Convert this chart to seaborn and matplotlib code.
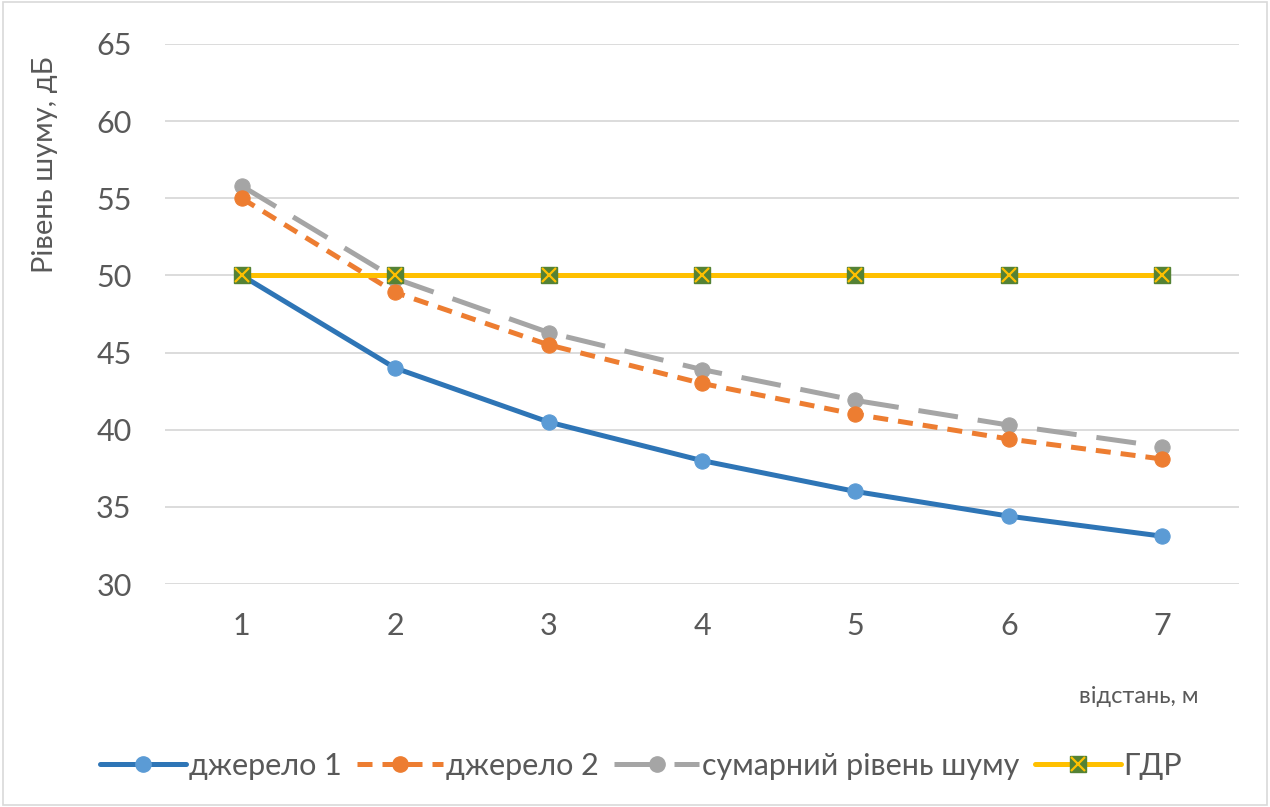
import matplotlib
matplotlib.use("Agg")
import matplotlib.pyplot as plt
import matplotlib.patches as mpatches
from matplotlib.lines import Line2D
import seaborn as sns
import pandas as pd

# дані з графіка
vidstan = [1, 2, 3, 4, 5, 6, 7]
dzherelo1 = [50, 44, 40.5, 38, 36, 34.4, 33.1]
dzherelo2 = [55, 48.9, 45.5, 43, 41, 39.4, 38.1]
sumarnyi = [55.8, 49.8, 46.3, 43.9, 41.9, 40.3, 38.9]
gdr = [50, 50, 50, 50, 50, 50, 50]
nazvy = ['джерело 1', 'джерело 2', 'сумарний рівень шуму', 'ГДР']

sns.set_style("white")
plt.rcParams['font.family'] = ['Lato', 'DejaVu Sans']
tekst = '#595959'
LW = 3.6
MS = 11
shtrykh2 = (0, (3, 2))
shtrykh3 = (0, (8, 4))

df = pd.DataFrame({'x': vidstan, 'd1': dzherelo1, 'd2': dzherelo2, 's': sumarnyi, 'g': gdr})

fig = plt.figure(figsize=(12.7, 8.07), dpi=100)
ax = fig.add_axes([0.1299, 0.2763, 0.8457, 0.6692])

sns.lineplot(data=df, x='x', y='d1', ax=ax, color='#2E75B6', lw=LW, marker='o', ms=MS,
             markerfacecolor='#5B9BD5', markeredgecolor='#5B9BD5', zorder=3)
sns.lineplot(data=df, x='x', y='d2', ax=ax, color='#ED7D31', lw=LW, marker='o', ms=MS,
             markeredgecolor='#ED7D31', linestyle=shtrykh2, zorder=4)
sns.lineplot(data=df, x='x', y='s', ax=ax, color='#A5A5A5', lw=LW, marker='o', ms=MS,
             markeredgecolor='#A5A5A5', linestyle=shtrykh3, zorder=3)
sns.lineplot(data=df, x='x', y='g', ax=ax, color='#FFC000', lw=LW, zorder=5)
# маркери ГДР: зелений квадрат з жовтим хрестиком
ax.plot(df['x'], df['g'], ls='none', marker='s', ms=MS, markerfacecolor='#548235',
        markeredgecolor='#548235', zorder=6)
ax.plot(df['x'], df['g'], ls='none', marker='x', ms=MS - 1, mew=1.6, color='#FFC000', zorder=7)

ax.set_xlim(0.5, 7.5)
ax.set_ylim(30, 65)
ax.set_yticks(range(30, 66, 5))
ax.set_xticks(vidstan)
ax.grid(axis='y', color='#D9D9D9', lw=1.3)
for s in ax.spines.values():
    s.set_visible(False)
ax.tick_params(axis='both', length=0, labelsize=22, labelcolor=tekst)
ax.tick_params(axis='y', pad=24)
ax.tick_params(axis='x', pad=20)

ax.set_ylabel('Рівень шуму, дБ', fontsize=21, color=tekst)
ax.yaxis.set_label_coords(-0.1, 0.776)
ax.set_xlabel('відстань, м', fontsize=17, color=tekst)
ax.xaxis.set_label_coords(0.907, -0.189)

handles = [
    Line2D([], [], color='#2E75B6', lw=LW, marker='o', ms=MS, markerfacecolor='#5B9BD5', markeredgecolor='#5B9BD5'),
    Line2D([], [], color='#ED7D31', lw=LW, marker='o', ms=MS, linestyle=shtrykh2),
    Line2D([], [], color='#A5A5A5', lw=LW, marker='o', ms=MS, linestyle=shtrykh3),
    (Line2D([], [], color='#FFC000', lw=LW, marker='s', ms=MS, markerfacecolor='#548235', markeredgecolor='#548235'),
     Line2D([], [], ls='none', marker='x', ms=MS - 1, mew=1.6, color='#FFC000')),
]
fig.legend(handles, nazvy, loc='center', bbox_to_anchor=(0.505, 0.051), ncol=4, frameon=False,
           fontsize=22, labelcolor=tekst, handlelength=2.8, handletextpad=0.1, columnspacing=0.5)

fig.patches.append(mpatches.Rectangle((0.002, 0.002), 0.996, 0.996, transform=fig.transFigure,
                                      fill=False, edgecolor='#D9D9D9', lw=1.2))

fig.savefig('out.png', dpi=100, facecolor='white')
